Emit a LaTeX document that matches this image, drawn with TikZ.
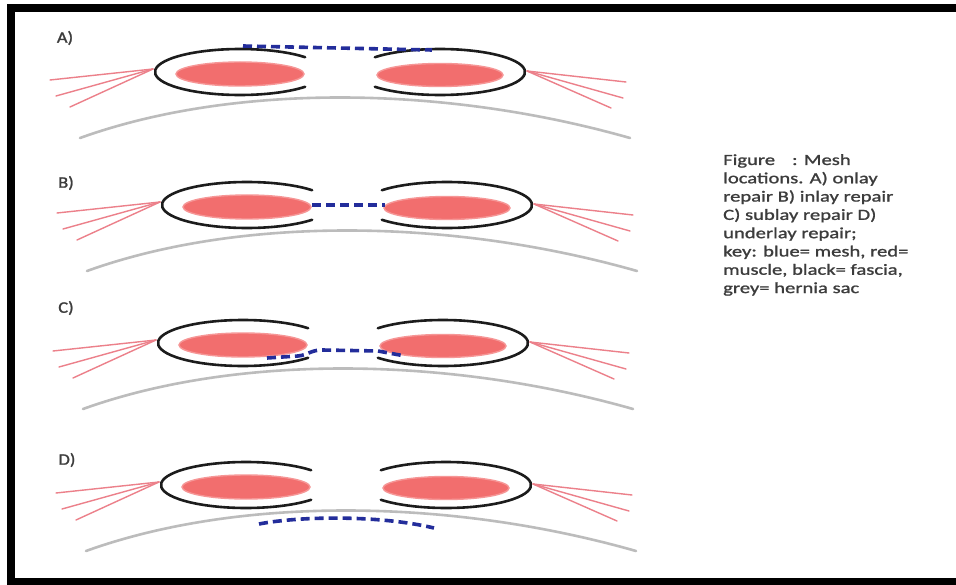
\documentclass[tikz,border=0pt]{standalone}
\usepackage{fontspec}
\newfontfamily\capfont[FakeStretch=1.33,FakeBold=1.2]{Carlito}
\newfontfamily\letterfont[FakeStretch=1.15,FakeBold=1.5]{Carlito}
\definecolor{fasciablack}{RGB}{28,28,28}
\definecolor{musclered}{RGB}{242,110,110}
\definecolor{muscleedge}{RGB}{246,150,150}
\definecolor{fibrered}{RGB}{236,128,138}
\definecolor{sacgrey}{RGB}{188,188,188}
\definecolor{meshblue}{RGB}{35,45,155}
\definecolor{labelgrey}{RGB}{60,60,60}
\begin{document}
\begin{tikzpicture}[x=1pt,y=-1pt,
  fascia/.style={draw=fasciablack, line width=2.6, line cap=round},
  muscle/.style={fill=musclered, draw=muscleedge, line width=1.4},
  fibre/.style={draw=fibrered, line width=1.4, line cap=round},
  sac/.style={draw=sacgrey, line width=2.6, line cap=round},
  mesh/.style={draw=meshblue, line width=3.6, dash pattern=on 9pt off 5pt},
  panel label/.style={font=\letterfont\fontsize{16}{18}\selectfont, text=labelgrey, inner sep=0},
  pics/wall/.style={code={
    % hernia sac
    \draw[sac] (80,66) .. controls (230,12) and (440,12) .. (630,66);
    % rectus muscles
    \path[muscle] (240,2) ellipse[x radius=64, y radius=12];
    \path[muscle] (440,3) ellipse[x radius=63, y radius=11.5];
    % fascial sheaths, open towards the defect
    \draw[fascia] (240,0) ++(40:85 and 23) arc[start angle=40, end angle=320, x radius=85, y radius=23];
    \draw[fascia] (440,0) ++(140:85 and 23) arc[start angle=140, end angle=-140, x radius=85, y radius=23];
    % lateral muscle fibres
    \draw[fibre] (153,-3) -- (50,8);
    \draw[fibre] (153,-3) -- (56,24);
    \draw[fibre] (153,-3) -- (70,35);
    \draw[fibre] (527,-1) -- (626,10);
    \draw[fibre] (527,-1) -- (623,26);
    \draw[fibre] (527,-1) -- (611,36);
  }}
]
\useasboundingbox (0,0) rectangle (956,585);
\clip (0,0) rectangle (956,585);
\fill[white] (0,0) rectangle (956,585);

% frame
\draw[line width=8] (975,8) -- (11,8) -- (11,582) -- (975,582);

% four repair positions
\pic at (0,72) {wall};
\pic at (7,205) {wall};
\pic at (3,343) {wall};
\pic at (6,485) {wall};

% meshes
\draw[mesh] (243,46) -- (432,50);
\draw[mesh] (312,205) -- (385,205);
\draw[mesh] (267,358) -- (298,356) .. controls (308,355) and (311,350) .. (322,350) -- (378,351) -- (405,356);
\draw[mesh] (259,524) .. controls (300,516) and (380,515) .. (434,528);

% panel letters
\node[panel label] (labA) at (65,38) {A)};
\node[panel label] (labB) at (66,183) {B)};
\node[panel label] (labC) at (66,308) {C)};
\node[panel label] (labD) at (67,460) {D)};

% caption
\node[anchor=north west, align=left, inner sep=0, text=labelgrey,
      font=\capfont\fontsize{15.5}{18.3}\selectfont] (caption) at (723,154)
  {Figure\hspace{1.1em}: Mesh\\ locations. A) onlay\\ repair B) inlay repair\\ C) sublay repair D)\\ underlay repair;\\ key: blue= mesh, red=\\ muscle, black= fascia,\\ grey= hernia sac};
\end{tikzpicture}
\end{document}
